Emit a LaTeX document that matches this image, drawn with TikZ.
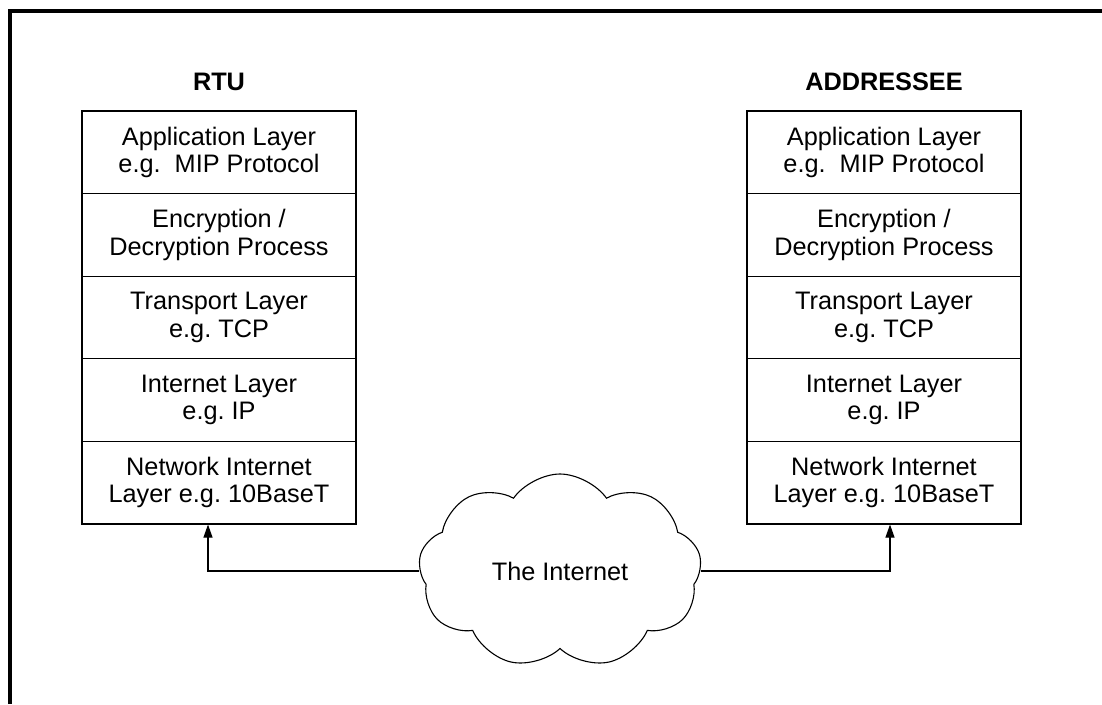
\documentclass[tikz,border=0pt]{standalone}
\usepackage{fontspec}
\setmainfont{Liberation Sans}
\usetikzlibrary{shapes.symbols,arrows.meta}
\frenchspacing

\begin{document}
\begin{tikzpicture}[x=1pt,y=-1pt,
  every node/.style={font=\fontsize{25.3}{27.4}\selectfont},
  layer/.style={draw,line width=1.1pt,minimum width=274pt,minimum height=82.6pt,align=center,inner sep=0pt},
  title/.style={font=\fontsize{25.3}{27.4}\selectfont\bfseries},
  link/.style={line width=1.1pt,-{Triangle[length=13pt,width=9pt]}}]
\useasboundingbox (0,0) rectangle (1102,704);

\draw[line width=4.5pt] (10,704) -- (10,11) -- (1102,11);

\node[title] (rtu) at (219,82) {RTU};
\node[layer] (rtu1) at (219,152.3) {Application Layer\\e.g.\ \ MIP Protocol};
\node[layer] (rtu2) at (219,234.9) {Encryption /\\Decryption Process};
\node[layer] (rtu3) at (219,317.5) {Transport Layer\\e.g. TCP};
\node[layer] (rtu4) at (219,400.1) {Internet Layer\\e.g. IP};
\node[layer] (rtu5) at (219,482.7) {Network Internet\\Layer e.g. 10BaseT};

\node[title] (adr) at (884,82) {ADDRESSEE};
\node[layer] (adr1) at (884,152.3) {Application Layer\\e.g.\ \ MIP Protocol};
\node[layer] (adr2) at (884,234.9) {Encryption /\\Decryption Process};
\node[layer] (adr3) at (884,317.5) {Transport Layer\\e.g. TCP};
\node[layer] (adr4) at (884,400.1) {Internet Layer\\e.g. IP};
\node[layer] (adr5) at (884,482.7) {Network Internet\\Layer e.g. 10BaseT};

\node[draw,cloud,cloud puffs=9,cloud puff arc=110,cloud ignores aspect,line width=1.1pt,
      minimum width=283pt,minimum height=194pt] (net) at (560,571) {The Internet};

\draw[link] (net.west) -| ([xshift=-11pt]rtu5.south);
\draw[link] (net.east) -| ([xshift=6pt]adr5.south);
\end{tikzpicture}
\end{document}
